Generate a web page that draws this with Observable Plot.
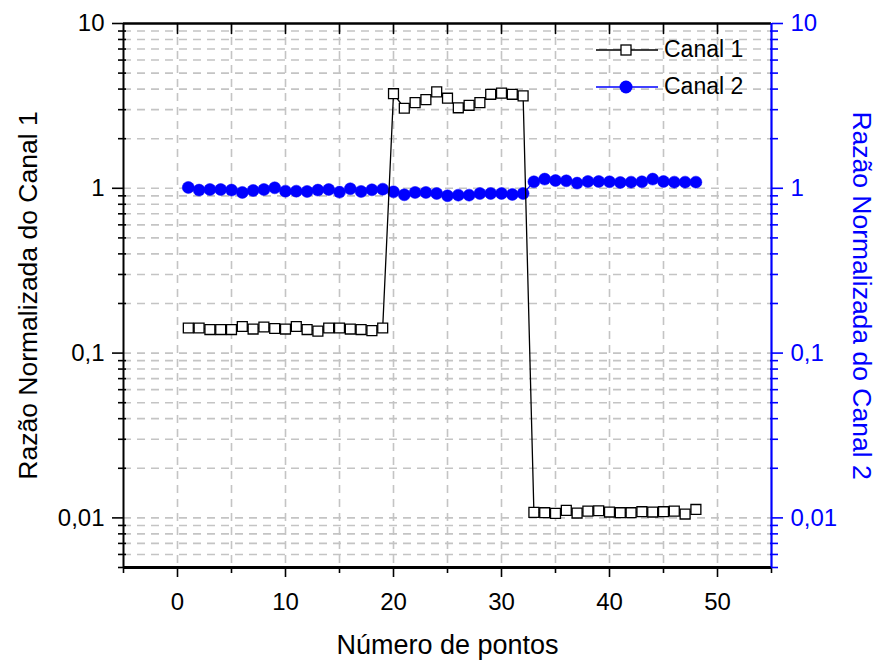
<!DOCTYPE html>
<html>
<head>
<meta charset="utf-8">
<script src="https://cdn.jsdelivr.net/npm/d3@7"></script>
<script src="https://cdn.jsdelivr.net/npm/@observablehq/plot@0.6"></script>
<style>
  html, body { margin: 0; padding: 0; background: #fff; }
  #chart { position: relative; width: 880px; height: 660px; font-family: "Liberation Sans", Arial, sans-serif; }
  #legend { position: absolute; left: 596px; top: 31px; font-size: 23px; color: #000; }
  #legend .row { display: flex; align-items: center; height: 37px; }
  #legend svg { margin-right: 6px; }
</style>
</head>
<body>
<div id="chart">
  <div id="legend"></div>
</div>
<script>
// Measurement index (x axis)
const pontos = d3.range(1, 49);

// Normalised ratio, channel 1
const canal1 = [
  0.142, 0.142, 0.139, 0.139, 0.139, 0.145, 0.140, 0.144, 0.141, 0.140,
  0.145, 0.139, 0.136, 0.142, 0.142, 0.140, 0.139, 0.137, 0.142,
  3.75, 3.06, 3.31, 3.45, 3.85, 3.52, 3.08, 3.19, 3.31, 3.72, 3.78, 3.72, 3.64,
  0.0108, 0.01075, 0.01065, 0.0111, 0.0107, 0.0110, 0.01105, 0.01085,
  0.01075, 0.01075, 0.0109, 0.01085, 0.0109, 0.0110, 0.01055, 0.01125
];

// Normalised ratio, channel 2
const canal2 = [
  1.012, 0.975, 0.983, 0.983, 0.975, 0.944, 0.970, 0.983, 1.007, 0.961,
  0.961, 0.957, 0.975, 0.983, 0.948, 0.993, 0.957, 0.979, 0.988,
  0.952, 0.913, 0.944, 0.944, 0.930, 0.901, 0.909, 0.909, 0.930, 0.930, 0.930, 0.918, 0.930,
  1.095, 1.137, 1.115, 1.110, 1.075, 1.100, 1.100, 1.095,
  1.085, 1.090, 1.095, 1.137, 1.100, 1.090, 1.090, 1.090
];

// Tick values and labels
const xMajor = [0, 10, 20, 30, 40, 50];
const xMinor = [-5, 5, 15, 25, 35, 45, 55];
const xGrid = [0, 5, 10, 15, 20, 25, 30, 35, 40, 45, 50];
const yMajor = [0.01, 0.1, 1, 10];
const yMajorLabels = ["0,01", "0,1", "1", "10"];
const yMinor = [
  0.005, 0.006, 0.007, 0.008, 0.009,
  0.02, 0.03, 0.04, 0.05, 0.06, 0.07, 0.08, 0.09,
  0.2, 0.3, 0.4, 0.5, 0.6, 0.7, 0.8, 0.9,
  2, 3, 4, 5, 6, 7, 8, 9
];
const yGrid = yMinor.filter(v => v > 0.005).concat([0.01, 0.1, 1]);

const seriesNames = ["Canal 1", "Canal 2"];
const xTitle = "Número de pontos";
const yTitleLeft = "Razão Normalizada do Canal 1";
const yTitleRight = "Razão Normalizada do Canal 2";

const blue = "#0000ff";
const gridColor = "#c4c4c4";

const d1 = pontos.map((x, i) => ({x, y: canal1[i]}));
const d2 = pontos.map((x, i) => ({x, y: canal2[i]}));
const yLabel = v => yMajorLabels[yMajor.indexOf(v)];
const noLabel = () => "";
const tickShape = {draw(context, l) { context.moveTo(0, 0); context.lineTo(0, -l); }};

const chart = Plot.plot({
  width: 880,
  height: 660,
  marginLeft: 123,
  marginRight: 109,
  marginTop: 23,
  marginBottom: 93,
  x: {domain: [-5, 55]},
  y: {type: "log", domain: [0.005, 10]},
  style: {fontFamily: "'Liberation Sans', Arial, sans-serif", background: "white", overflow: "visible"},
  marks: [
    // dashed grid
    Plot.gridX(xGrid, {stroke: gridColor, strokeOpacity: 1, strokeWidth: 1.6, strokeDasharray: "8,6"}),
    Plot.gridY(yGrid, {stroke: gridColor, strokeOpacity: 1, strokeWidth: 1.6, strokeDasharray: "8,6"}),

    // bottom axis
    Plot.axisX({ticks: xMajor, tickSize: 10, tickPadding: 15, fontSize: 24, strokeWidth: 1.6, label: null}),
    Plot.axisX({ticks: xMinor, tickSize: 6, tickFormat: noLabel, strokeWidth: 1.6, label: null}),
    // top ticks pointing inward
    Plot.vector(xGrid, {x: d => d, frameAnchor: "top", length: 10, rotate: 180, anchor: "start", shape: tickShape, stroke: "black", strokeWidth: 1.6}),

    // left axis
    Plot.axisY({ticks: yMajor, tickSize: 11, tickPadding: 8, fontSize: 24, tickFormat: yLabel, strokeWidth: 1.6, label: null}),
    Plot.axisY({ticks: yMinor, tickSize: 8, dx: 3, tickFormat: noLabel, strokeWidth: 1.6, label: null}),

    // right axis (channel 2)
    Plot.axisY({anchor: "right", ticks: yMajor, tickSize: 11, tickPadding: 8, fontSize: 24, tickFormat: yLabel, color: blue, strokeWidth: 1.6, label: null}),
    Plot.axisY({anchor: "right", ticks: yMinor, tickSize: 8, dx: -2, tickFormat: noLabel, color: blue, strokeWidth: 1.6, label: null}),

    // frame edges
    Plot.ruleY([0.005], {stroke: "black", strokeWidth: 3}),
    Plot.ruleY([10], {stroke: "black", strokeWidth: 2.6}),
    Plot.ruleX([-5], {stroke: "black", strokeWidth: 2}),
    Plot.ruleX([55], {stroke: blue, strokeWidth: 2.2}),

    // channel 2
    Plot.line(d2, {x: "x", y: "y", stroke: blue, strokeWidth: 1.2}),
    Plot.dot(d2, {x: "x", y: "y", r: 6, fill: blue, stroke: blue, strokeWidth: 0.5}),

    // channel 1
    Plot.line(d1, {x: "x", y: "y", stroke: "black", strokeWidth: 1.3}),
    Plot.dot(d1, {x: "x", y: "y", symbol: "square", r: 5.6, fill: "white", stroke: "black", strokeWidth: 1.3}),

    // axis titles
    Plot.text([xTitle], {frameAnchor: "bottom", dy: 78, fontSize: 27, textAnchor: "middle", lineAnchor: "middle", fill: "black"}),
    Plot.text([yTitleLeft], {frameAnchor: "left", dx: -95, rotate: -90, fontSize: 26.5, textAnchor: "middle", lineAnchor: "middle", fill: "black"}),
    Plot.text([yTitleRight], {frameAnchor: "right", dx: 90, rotate: 90, fontSize: 26.5, textAnchor: "middle", lineAnchor: "middle", fill: blue})
  ]
});

const container = document.getElementById("chart");
container.insertBefore(chart, container.firstChild);

// legend
const legend = document.getElementById("legend");
const legendItems = [
  {name: seriesNames[0], stroke: "black", symbol: `<rect x="25" y="8" width="10" height="10" fill="white" stroke="black" stroke-width="1.3"/>`},
  {name: seriesNames[1], stroke: blue, symbol: `<circle cx="30" cy="13" r="6.5" fill="${blue}"/>`}
];
for (const item of legendItems) {
  const row = document.createElement("div");
  row.className = "row";
  row.innerHTML = `<svg width="62" height="26"><line x1="0" x2="62" y1="13" y2="13" stroke="${item.stroke}" stroke-width="1.3"/>${item.symbol}</svg><span>${item.name}</span>`;
  legend.appendChild(row);
}
</script>
</body>
</html>
